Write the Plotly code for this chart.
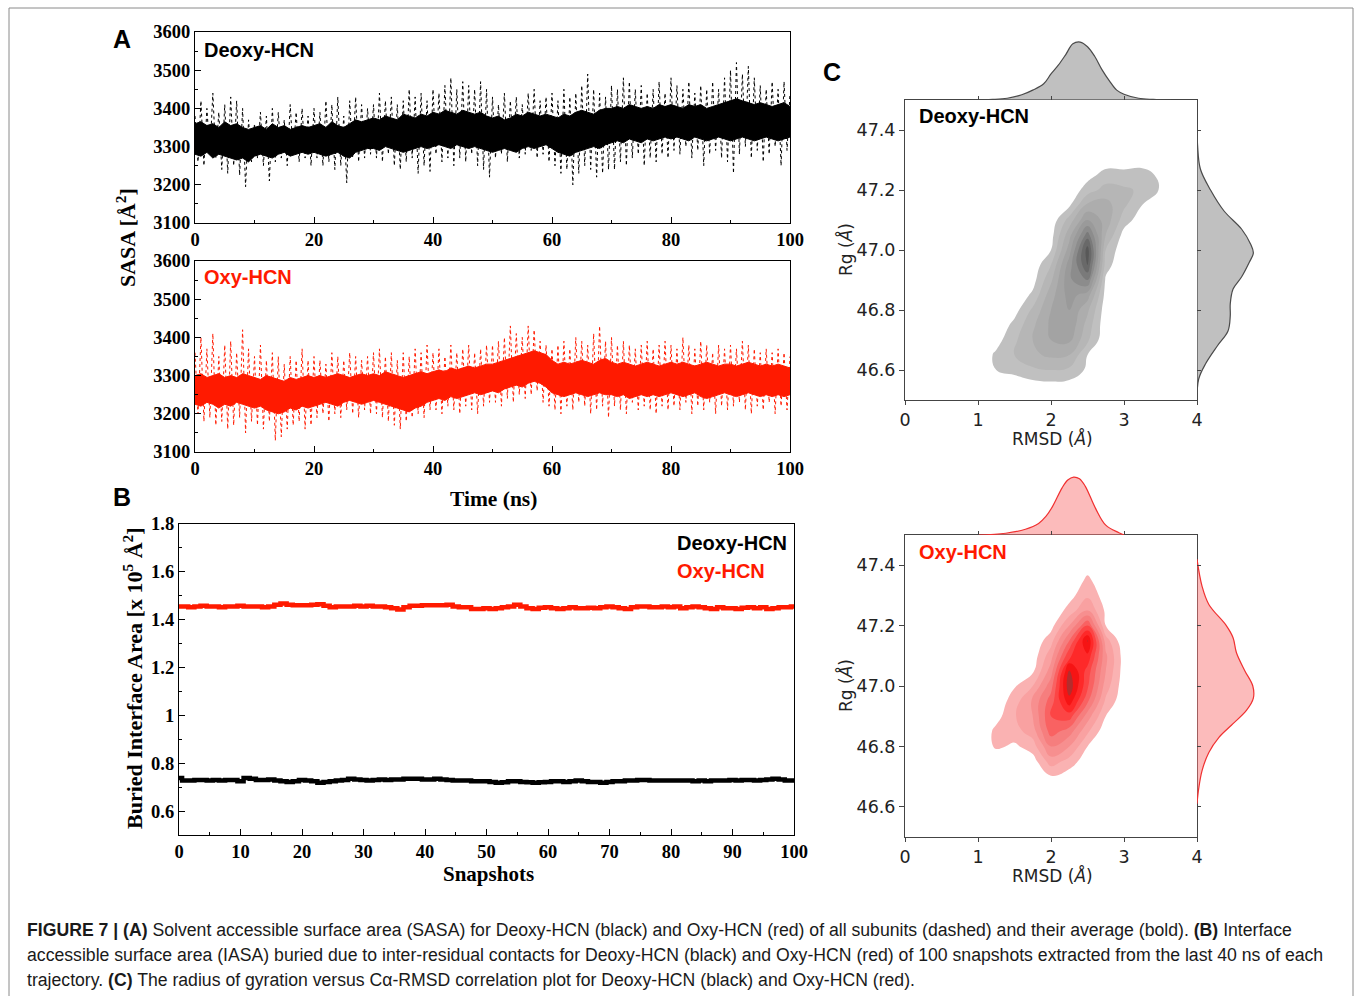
import numpy as np
import plotly.graph_objects as go

W, H = 1355, 996

# ---------------- DATA ----------------
# Panel A: SASA time series
time_ns = np.linspace(0, 100, 201)      # 0.5 ns sampling for the subunit traces
time_core = list(range(101))             # 1 ns sampling for the dense core band

deoxy_subunits = [
    3380,3260,3420,3250,3400,3280,3440,3270,3390,3240,3410,3230,3430,3250,3420,3225,3400,3195,3370,3260,
    3360,3270,3390,3250,3380,3210,3400,3260,3390,3270,3370,3250,3410,3280,3390,3260,3400,3270,3380,3250,
    3400,3270,3390,3250,3420,3260,3410,3240,3430,3250,3380,3205,3420,3270,3430,3260,3410,3270,3400,3280,
    3410,3270,3440,3260,3420,3280,3430,3250,3410,3240,3420,3260,3450,3270,3430,3230,3440,3250,3420,3235,
    3450,3280,3440,3260,3460,3270,3480,3250,3450,3270,3470,3260,3460,3280,3450,3250,3470,3240,3450,3220,
    3430,3270,3410,3280,3440,3260,3420,3290,3430,3270,3410,3280,3440,3290,3450,3270,3420,3280,3430,3260,
    3440,3250,3420,3230,3450,3240,3430,3200,3440,3230,3460,3250,3490,3240,3450,3220,3440,3230,3430,3240,
    3460,3240,3450,3260,3480,3250,3470,3270,3450,3280,3460,3250,3440,3270,3450,3260,3470,3280,3440,3270,
    3480,3290,3460,3280,3450,3300,3470,3270,3440,3290,3460,3250,3450,3280,3470,3290,3450,3270,3480,3260,
    3500,3230,3520,3280,3490,3300,3510,3270,3480,3290,3460,3260,3450,3280,3470,3300,3450,3250,3470,3290,
    3440]
deoxy_core_hi = [
    3360,3365,3355,3360,3350,3365,3355,3360,3350,3345,
    3350,3355,3345,3360,3350,3355,3345,3350,3355,3350,
    3355,3360,3350,3365,3355,3350,3360,3370,3365,3370,
    3375,3370,3380,3375,3370,3385,3380,3375,3385,3380,
    3390,3385,3395,3390,3385,3395,3390,3385,3390,3380,
    3375,3380,3370,3375,3385,3380,3390,3385,3380,3385,
    3380,3375,3385,3380,3390,3395,3390,3385,3395,3400,
    3400,3405,3400,3410,3405,3400,3405,3400,3410,3405,
    3410,3405,3400,3410,3405,3410,3400,3405,3410,3415,
    3420,3425,3420,3415,3410,3415,3410,3405,3410,3415,
    3405]
deoxy_core_lo = [
    3280,3275,3285,3270,3280,3275,3270,3265,3270,3260,
    3275,3280,3275,3270,3280,3285,3275,3280,3285,3280,
    3285,3280,3275,3280,3285,3275,3270,3285,3290,3295,
    3295,3290,3300,3295,3290,3285,3290,3295,3300,3295,
    3300,3305,3300,3295,3305,3300,3295,3300,3295,3290,
    3285,3290,3295,3290,3285,3295,3300,3295,3300,3305,
    3295,3285,3280,3275,3285,3290,3295,3300,3295,3305,
    3310,3315,3310,3320,3315,3310,3320,3315,3320,3325,
    3320,3325,3320,3315,3325,3320,3315,3320,3325,3320,
    3315,3320,3325,3320,3315,3320,3325,3320,3315,3320,
    3325]
oxy_subunits = [
    3360,3200,3400,3180,3370,3190,3410,3170,3350,3180,3380,3160,3390,3170,3360,3190,3420,3150,3370,3180,
    3350,3170,3380,3160,3340,3180,3360,3130,3350,3140,3330,3160,3350,3170,3340,3180,3370,3160,3340,3170,
    3350,3190,3340,3200,3330,3180,3360,3200,3350,3190,3340,3210,3360,3200,3350,3190,3340,3210,3350,3200,
    3360,3200,3370,3190,3350,3180,3360,3170,3340,3160,3360,3180,3350,3190,3370,3200,3360,3190,3380,3210,
    3360,3210,3370,3200,3350,3220,3380,3210,3360,3200,3370,3220,3380,3210,3360,3200,3370,3220,3380,3230,
    3380,3230,3390,3220,3400,3240,3430,3230,3410,3250,3400,3240,3430,3250,3420,3260,3390,3230,3380,3220,
    3370,3210,3380,3200,3390,3220,3370,3210,3400,3230,3390,3220,3380,3200,3410,3210,3430,3220,3390,3190,
    3400,3220,3380,3210,3390,3200,3380,3230,3370,3210,3380,3220,3390,3210,3370,3200,3380,3220,3390,3210,
    3380,3220,3370,3210,3400,3230,3380,3200,3370,3220,3390,3210,3380,3230,3360,3200,3380,3220,3370,3210,
    3380,3220,3370,3230,3390,3210,3380,3200,3370,3220,3360,3210,3370,3230,3360,3200,3370,3220,3360,3210,
    3350]
oxy_core_hi = [
    3300,3305,3295,3300,3305,3295,3300,3295,3305,3300,
    3295,3290,3300,3295,3290,3285,3295,3290,3295,3300,
    3295,3300,3295,3300,3305,3300,3295,3300,3305,3300,
    3305,3300,3310,3305,3300,3295,3300,3305,3310,3305,
    3310,3315,3310,3320,3315,3320,3325,3320,3325,3330,
    3330,3335,3340,3345,3350,3355,3360,3365,3360,3355,
    3340,3330,3335,3330,3335,3340,3335,3330,3340,3345,
    3335,3330,3335,3330,3325,3330,3335,3330,3325,3330,
    3335,3330,3335,3330,3325,3330,3335,3330,3325,3330,
    3330,3325,3330,3335,3330,3325,3330,3325,3330,3325,
    3320]
oxy_core_lo = [
    3225,3220,3230,3225,3215,3225,3220,3230,3225,3220,
    3215,3220,3210,3205,3200,3205,3215,3210,3220,3215,
    3220,3225,3230,3225,3220,3230,3235,3230,3225,3230,
    3235,3230,3225,3220,3215,3210,3205,3215,3220,3230,
    3235,3240,3235,3245,3240,3245,3250,3255,3250,3255,
    3260,3255,3265,3270,3275,3270,3280,3285,3280,3270,
    3255,3250,3245,3250,3255,3250,3245,3250,3255,3250,
    3250,3245,3250,3240,3245,3250,3245,3250,3245,3250,
    3255,3250,3245,3250,3255,3245,3240,3245,3250,3255,
    3250,3245,3250,3255,3250,3245,3250,3245,3250,3245,
    3250]

# Panel B: buried interface area (x 10^5 A^2), 101 snapshots
snapshots = list(range(101))
oxy_buried = [
    1.455,1.455,1.452,1.455,1.458,1.455,1.455,1.452,1.455,1.455,
    1.458,1.455,1.455,1.455,1.452,1.455,1.462,1.468,1.462,1.460,
    1.460,1.460,1.462,1.465,1.458,1.452,1.455,1.455,1.455,1.458,
    1.455,1.458,1.455,1.455,1.452,1.448,1.443,1.452,1.458,1.458,
    1.460,1.460,1.460,1.460,1.462,1.455,1.452,1.452,1.445,1.445,
    1.448,1.445,1.448,1.452,1.455,1.462,1.455,1.448,1.445,1.450,
    1.452,1.448,1.445,1.448,1.452,1.448,1.448,1.450,1.448,1.452,
    1.455,1.452,1.448,1.445,1.452,1.455,1.455,1.452,1.452,1.455,
    1.452,1.455,1.448,1.452,1.455,1.452,1.448,1.445,1.452,1.448,
    1.448,1.445,1.450,1.452,1.448,1.452,1.445,1.448,1.452,1.452,
    1.455]
deoxy_buried = [
    0.738,0.728,0.728,0.730,0.730,0.728,0.730,0.728,0.730,0.730,
    0.725,0.738,0.735,0.730,0.730,0.732,0.728,0.725,0.722,0.725,
    0.730,0.728,0.725,0.718,0.722,0.725,0.728,0.730,0.735,0.732,
    0.730,0.728,0.730,0.732,0.730,0.732,0.732,0.735,0.735,0.735,
    0.732,0.732,0.735,0.732,0.730,0.728,0.728,0.728,0.725,0.725,
    0.725,0.722,0.718,0.720,0.725,0.725,0.722,0.720,0.718,0.720,
    0.722,0.725,0.725,0.722,0.725,0.728,0.725,0.722,0.722,0.718,
    0.722,0.725,0.725,0.728,0.728,0.730,0.730,0.728,0.728,0.728,
    0.728,0.728,0.728,0.728,0.725,0.728,0.725,0.728,0.728,0.728,
    0.730,0.728,0.730,0.730,0.728,0.730,0.732,0.735,0.732,0.728,
    0.728]

# Panel C: density grids (RMSD columns x Rg rows)
rmsd_grid = [1.0, 1.25, 1.5, 1.75, 2.0, 2.25, 2.5, 2.75, 3.0, 3.25, 3.5, 3.75]
deoxy_rg_grid = [46.50, 46.55, 46.60, 46.65, 46.70, 46.75, 46.80, 46.85, 46.90,
                 46.95, 47.00, 47.05, 47.10, 47.15, 47.20, 47.25, 47.30, 47.35]
deoxy_density = [
    [0, 0, 0, 0, 0, 0, 0, 0, 0, 0, 0, 0],
    [0, 0, 0.2, 0.6, 0.7, 0.6, 0.2, 0, 0, 0, 0, 0],
    [0, 1.0, 1.4, 1.8, 2.0, 1.8, 0.8, 0, 0, 0, 0, 0],
    [0.2, 1.2, 2.0, 2.8, 3.2, 3.0, 1.0, 0, 0, 0, 0, 0],
    [0, 0.6, 1.8, 3.0, 4.0, 4.2, 2.2, 0.2, 0, 0, 0, 0],
    [0, 0.2, 1.3, 2.8, 4.2, 4.8, 2.6, 0.3, 0, 0, 0, 0],
    [0, 0, 0.6, 2.2, 4.0, 5.0, 3.2, 0.4, 0, 0, 0, 0],
    [0, 0, 0.2, 1.2, 3.6, 5.4, 4.5, 0.6, 0, 0, 0, 0],
    [0, 0, 0, 0.6, 2.8, 5.8, 7.0, 0.8, 0, 0, 0, 0],
    [0, 0, 0, 0.3, 2.0, 5.5, 9.0, 1.5, 0, 0, 0, 0],
    [0, 0, 0, 0.1, 1.0, 4.5, 9.5, 2.0, 0.2, 0, 0, 0],
    [0, 0, 0, 0, 0.6, 3.6, 7.5, 3.0, 0.6, 0, 0, 0],
    [0, 0, 0, 0, 0.3, 2.4, 5.0, 3.6, 1.5, 0.4, 0, 0],
    [0, 0, 0, 0, 0, 0.8, 3.2, 3.4, 2.2, 1.0, 0.3, 0],
    [0, 0, 0, 0, 0, 0.2, 1.5, 2.4, 2.2, 1.8, 0.9, 0],
    [0, 0, 0, 0, 0, 0, 0.6, 1.4, 1.3, 1.4, 0.8, 0],
    [0, 0, 0, 0, 0, 0, 0, 0.4, 0.5, 0.5, 0.3, 0],
    [0, 0, 0, 0, 0, 0, 0, 0, 0, 0, 0, 0],
]
oxy_rg_grid = [46.65, 46.70, 46.75, 46.80, 46.85, 46.90, 46.95, 47.00, 47.05,
               47.10, 47.15, 47.20, 47.25, 47.30, 47.35, 47.40, 47.45]
oxy_density = [
    [0, 0, 0, 0, 0, 0, 0, 0, 0, 0, 0, 0],
    [0, 0, 0, 0, 0.9, 0.4, 0, 0, 0, 0, 0, 0],
    [0, 0, 0, 0.5, 2.5, 1.6, 0.3, 0, 0, 0, 0, 0],
    [0, 1.2, 0.8, 1.5, 4.0, 3.0, 1.0, 0, 0, 0, 0, 0],
    [0, 1.3, 1.6, 2.5, 5.5, 4.5, 2.2, 0.3, 0, 0, 0, 0],
    [0, 0.6, 1.9, 3.0, 6.0, 6.5, 3.5, 1.0, 0, 0, 0, 0],
    [0, 0.3, 1.5, 3.2, 5.5, 8.6, 5.2, 1.8, 0.3, 0, 0, 0],
    [0, 0, 0.9, 2.0, 4.6, 9.7, 6.2, 2.5, 0.4, 0, 0, 0],
    [0, 0, 0.3, 0.8, 3.5, 9.2, 6.6, 3.0, 0.5, 0, 0, 0],
    [0, 0, 0, 0.4, 2.6, 6.8, 7.8, 3.2, 0.5, 0, 0, 0],
    [0, 0, 0, 0.2, 1.6, 5.0, 9.1, 2.5, 0.2, 0, 0, 0],
    [0, 0, 0, 0, 0.6, 3.0, 6.0, 1.0, 0, 0, 0, 0],
    [0, 0, 0, 0, 0.1, 1.4, 3.0, 0.8, 0, 0, 0, 0],
    [0, 0, 0, 0, 0, 0.6, 1.8, 0.5, 0, 0, 0, 0],
    [0, 0, 0, 0, 0, 0.2, 1.2, 0.3, 0, 0, 0, 0],
    [0, 0, 0, 0, 0, 0, 0.6, 0, 0, 0, 0, 0],
    [0, 0, 0, 0, 0, 0, 0, 0, 0, 0, 0, 0],
]

# Panel C marginal densities (normalised to peak = 1)
deoxy_rmsd_x = [0.9, 1.2, 1.4, 1.6, 1.75, 1.9, 2.0, 2.1, 2.2, 2.3, 2.4, 2.5, 2.6, 2.7, 2.8, 2.9, 3.0, 3.2, 3.4, 3.65]
deoxy_rmsd_d = [0, 0.01, 0.03, 0.09, 0.17, 0.28, 0.45, 0.6, 0.78, 0.97, 1.0, 0.92, 0.75, 0.52, 0.33, 0.17, 0.1, 0.03, 0.01, 0]
deoxy_rg_y = [46.5, 46.57, 46.62, 46.68, 46.73, 46.78, 46.82, 46.87, 46.91, 46.96, 46.99, 47.02, 47.07, 47.13, 47.2, 47.27, 47.35, 47.42]
deoxy_rg_d = [0, 0.03, 0.15, 0.36, 0.55, 0.59, 0.59, 0.64, 0.79, 0.93, 1.0, 0.95, 0.79, 0.48, 0.24, 0.06, 0.01, 0]
oxy_rmsd_x = [1.0, 1.38, 1.65, 1.83, 1.93, 2.02, 2.15, 2.23, 2.31, 2.39, 2.47, 2.61, 2.75, 2.93, 3.0]
oxy_rmsd_d = [0, 0.03, 0.1, 0.2, 0.32, 0.49, 0.81, 0.95, 1.0, 0.97, 0.84, 0.46, 0.17, 0.04, 0]
oxy_rg_y = [46.61, 46.66, 46.72, 46.78, 46.83, 46.87, 46.92, 46.96, 47.0, 47.05, 47.11, 47.16, 47.2, 47.27, 47.33, 47.42]
oxy_rg_d = [0, 0.03, 0.09, 0.21, 0.39, 0.61, 0.88, 1.0, 0.99, 0.85, 0.7, 0.64, 0.52, 0.21, 0.09, 0]

# ---------------- HELPERS ----------------
def px(x):
    return x / W


def py(y):
    return 1 - y / H


SERIF = "Liberation Serif"
SANS = "Liberation Sans"
MPL = "DejaVu Sans"
RED = "#ff1a00"

fig = go.Figure()


def sasa(xa, ya, sub, lo, hi, color):
    fig.add_trace(go.Scatter(x=time_ns, y=sub, mode="lines", xaxis=xa, yaxis=ya,
                             line=dict(color=color, width=1, dash="dot"), showlegend=False))
    fig.add_trace(go.Scatter(x=time_core, y=lo, mode="lines", xaxis=xa, yaxis=ya,
                             line=dict(color=color, width=1), showlegend=False))
    fig.add_trace(go.Scatter(x=time_core, y=hi, mode="lines", xaxis=xa, yaxis=ya,
                             line=dict(color=color, width=1), fill="tonexty", fillcolor=color,
                             showlegend=False))


sasa("x", "y", deoxy_subunits, deoxy_core_lo, deoxy_core_hi, "black")
sasa("x2", "y2", oxy_subunits, oxy_core_lo, oxy_core_hi, RED)

# Panel B traces
fig.add_trace(go.Scatter(x=snapshots, y=oxy_buried, mode="lines", xaxis="x3", yaxis="y3",
                         line=dict(color=RED, width=4.5, shape="hvh"), showlegend=False))
fig.add_trace(go.Scatter(x=snapshots, y=deoxy_buried, mode="lines", xaxis="x3", yaxis="y3",
                         line=dict(color="black", width=4.5, shape="hvh"), showlegend=False))

# Panel C contours
gray_scale = [[0, "rgba(255,255,255,0)"], [0.1, "rgba(255,255,255,0)"], [0.11, "rgb(192,192,192)"],
              [0.6, "rgb(150,150,150)"], [1, "rgb(88,88,88)"]]
red_scale = [[0, "rgba(255,255,255,0)"], [0.1, "rgba(255,255,255,0)"], [0.11, "rgb(250,178,178)"],
             [0.45, "rgb(246,125,125)"], [0.8, "rgb(255,35,35)"], [0.9, "rgb(245,18,18)"],
             [1, "rgb(180,45,45)"]]

fig.add_trace(go.Contour(x=rmsd_grid, y=deoxy_rg_grid, z=deoxy_density, xaxis="x4", yaxis="y4",
                         colorscale=gray_scale, zmin=0, zmax=10, showscale=False,
                         contours=dict(start=1, end=9, size=1, coloring="fill", showlines=False),
                         line=dict(width=0, smoothing=1.3), hoverinfo="skip"))
fig.add_trace(go.Contour(x=rmsd_grid, y=oxy_rg_grid, z=oxy_density, xaxis="x7", yaxis="y7",
                         colorscale=red_scale, zmin=0, zmax=10, showscale=False,
                         contours=dict(start=1, end=9, size=1, coloring="fill", showlines=False),
                         line=dict(width=0, smoothing=1.3), hoverinfo="skip"))

# Panel C marginals
fig.add_trace(go.Scatter(x=deoxy_rmsd_x, y=deoxy_rmsd_d, mode="lines", xaxis="x5", yaxis="y5",
                         fill="tozeroy", fillcolor="rgba(150,150,150,0.6)",
                         line=dict(color="#4a4a4a", width=1.2, shape="spline"), showlegend=False))
fig.add_trace(go.Scatter(x=deoxy_rg_d, y=deoxy_rg_y, mode="lines", xaxis="x6", yaxis="y6",
                         fill="tozerox", fillcolor="rgba(150,150,150,0.6)",
                         line=dict(color="#4a4a4a", width=1.2, shape="spline"), showlegend=False))
fig.add_trace(go.Scatter(x=oxy_rmsd_x, y=oxy_rmsd_d, mode="lines", xaxis="x8", yaxis="y8",
                         fill="tozeroy", fillcolor="rgba(250,120,120,0.5)",
                         line=dict(color="#f03030", width=1.2, shape="spline"), showlegend=False))
fig.add_trace(go.Scatter(x=oxy_rg_d, y=oxy_rg_y, mode="lines", xaxis="x9", yaxis="y9",
                         fill="tozerox", fillcolor="rgba(250,120,120,0.5)",
                         line=dict(color="#f03030", width=1.2, shape="spline"), showlegend=False))

# ---------------- AXES ----------------
tfont_serif = dict(family=SERIF, size=18.5, color="black", weight="bold")
tfont_mpl = dict(family=MPL, size=17.5, color="#222")


def ax_serif(domain, anchor, rng, dtick, minor, tick0=None):
    d = dict(domain=domain, anchor=anchor, range=rng, dtick=dtick, ticks="inside", ticklen=6,
             tickwidth=1.2, tickcolor="black", showline=True, linecolor="black", linewidth=1.3,
             mirror=True, showgrid=False, zeroline=False, tickfont=tfont_serif, automargin=False,
             minor=dict(dtick=minor, ticks="inside", ticklen=3, tickcolor="black", showgrid=False))
    if tick0 is not None:
        d["tick0"] = tick0
    return d


xA = [px(195), px(790)]
fig.update_layout(
    xaxis=ax_serif(xA, "y", [0, 100], 20, 10),
    yaxis=ax_serif([py(223), py(32)], "x", [3100, 3600], 100, 50),
    xaxis2=ax_serif(xA, "y2", [0, 100], 20, 10),
    yaxis2=ax_serif([py(452), py(261)], "x2", [3100, 3600], 100, 50),
    xaxis3=ax_serif([px(179), px(794)], "y3", [0, 100], 10, 5),
    yaxis3=ax_serif([py(835), py(524)], "x3", [0.5, 1.8], 0.2, 0.1, tick0=0.6),
)


def ax_main(domain, anchor, rng, tickvals, fmt=None, tlen=5):
    d = dict(domain=domain, anchor=anchor, range=rng, tickvals=tickvals, ticks="outside", ticklen=tlen,
             tickcolor="#444", showline=True, linecolor="#444", linewidth=1, mirror=True,
             showgrid=False, zeroline=False, tickfont=tfont_mpl, automargin=False)
    if fmt:
        d["tickformat"] = fmt
    return d


def ax_marg(domain, anchor, rng, tickvals=None):
    d = dict(domain=domain, anchor=anchor, range=rng, showgrid=False, zeroline=False,
             showline=False, showticklabels=False, automargin=False)
    if tickvals is not None:
        d.update(tickvals=tickvals, ticks="inside", ticklen=4, tickcolor="#444")
    else:
        d.update(ticks="")
    return d


xC = [px(905), px(1197)]
xR = [px(1197), px(1259)]
rg_ticks = [46.6, 46.8, 47.0, 47.2, 47.4]
fig.update_layout(
    xaxis4=ax_main(xC, "y4", [0, 4], [0, 1, 2, 3, 4], tlen=4),
    yaxis4=ax_main([py(400), py(100)], "x4", [46.5, 47.5], rg_ticks, ".1f"),
    xaxis5=ax_marg(xC, "y5", [0, 4], [1, 2, 3]),
    yaxis5=ax_marg([py(100), py(38)], "x5", [0, 1.07]),
    xaxis6=ax_marg(xR, "y6", [0, 1.1]),
    yaxis6=ax_marg([py(400), py(100)], "x6", [46.5, 47.5], rg_ticks),
    xaxis7=ax_main(xC, "y7", [0, 4], [0, 1, 2, 3, 4], tlen=4),
    yaxis7=ax_main([py(837), py(535)], "x7", [46.5, 47.5], rg_ticks, ".1f"),
    xaxis8=ax_marg(xC, "y8", [0, 4], [1, 2, 3]),
    yaxis8=ax_marg([py(535), py(473)], "x8", [0, 1.07]),
    xaxis9=ax_marg(xR, "y9", [0, 1.1]),
    yaxis9=ax_marg([py(837), py(535)], "x9", [46.5, 47.5], rg_ticks),
)

# ---------------- TEXT ----------------
ann = []


def add_text(x, y, text, font, xanchor="center", yanchor="middle", angle=0):
    ann.append(dict(x=px(x), y=py(y), xref="paper", yref="paper", text=text, showarrow=False,
                    font=font, xanchor=xanchor, yanchor=yanchor, textangle=angle))


letter = dict(family=SANS, size=25, color="black", weight="bold")
add_text(122, 39, "A", letter)
add_text(122, 497, "B", letter)
add_text(832, 72, "C", letter)

lab_b = dict(family=SANS, size=20, color="black", weight="bold")
lab_r = dict(family=SANS, size=20, color=RED, weight="bold")
add_text(202, 50, "Deoxy-HCN", lab_b, xanchor="left")
add_text(202, 277, "Oxy-HCN", lab_r, xanchor="left")
add_text(789, 543, "Deoxy-HCN", lab_b, xanchor="right")
add_text(767, 571, "Oxy-HCN", lab_r, xanchor="right")
add_text(917, 116, "Deoxy-HCN", lab_b, xanchor="left")
add_text(917, 552, "Oxy-HCN", lab_r, xanchor="left")

title_serif = dict(family=SERIF, size=22, color="black", weight="bold")
title_serif2 = dict(family=SERIF, size=21.5, color="black", weight="bold")
title_serif3 = dict(family=SERIF, size=21, color="black", weight="bold")
add_text(126, 238, "SASA [Å<sup>2</sup>]", title_serif, angle=-90)
add_text(493, 499, "Time (ns)", title_serif2)
add_text(133, 678, "Buried Interface Area [x 10<sup>5</sup> Å<sup>2</sup>]", title_serif, angle=-90)
add_text(488, 874, "Snapshots", title_serif3)

title_mpl = dict(family=MPL, size=17, color="#222")
add_text(1052, 439, "RMSD (<i>Å</i>)", title_mpl)
add_text(845, 250, "Rg (<i>Å</i>)", title_mpl, angle=-90)
add_text(1052, 875, "RMSD (<i>Å</i>)", title_mpl)
add_text(845, 686, "Rg (<i>Å</i>)", title_mpl, angle=-90)

cap = dict(family=SANS, size=17.65, color="#1a1a1a")
add_text(25, 930, "<b>FIGURE 7 | (A)</b> Solvent accessible surface area (SASA) for Deoxy-HCN (black) and "
         "Oxy-HCN (red) of all subunits (dashed) and their average (bold). <b>(B)</b> Interface", cap, xanchor="left")
add_text(25, 955, "accessible surface area (IASA) buried due to inter-residual contacts for Deoxy-HCN (black) "
         "and Oxy-HCN (red) of 100 snapshots extracted from the last 40 ns of each", cap, xanchor="left")
add_text(25, 980, "trajectory. <b>(C)</b> The radius of gyration versus Cα-RMSD correlation plot for "
         "Deoxy-HCN (black) and Oxy-HCN (red).", cap, xanchor="left")

fig.update_layout(
    width=W, height=H, autosize=False,
    margin=dict(l=0, r=0, t=0, b=0, pad=0, autoexpand=False),
    paper_bgcolor="white", plot_bgcolor="white",
    showlegend=False,
    annotations=ann,
    shapes=[dict(type="rect", xref="paper", yref="paper", x0=px(9), x1=px(1353), y0=py(1005), y1=py(8),
                 line=dict(color="#8a8a8a", width=1), fillcolor="rgba(0,0,0,0)", layer="below")],
)

fig.write_html("out.html", config={"displayModeBar": False},
               post_script="document.body.style.margin='0';document.body.style.overflow='hidden';")
